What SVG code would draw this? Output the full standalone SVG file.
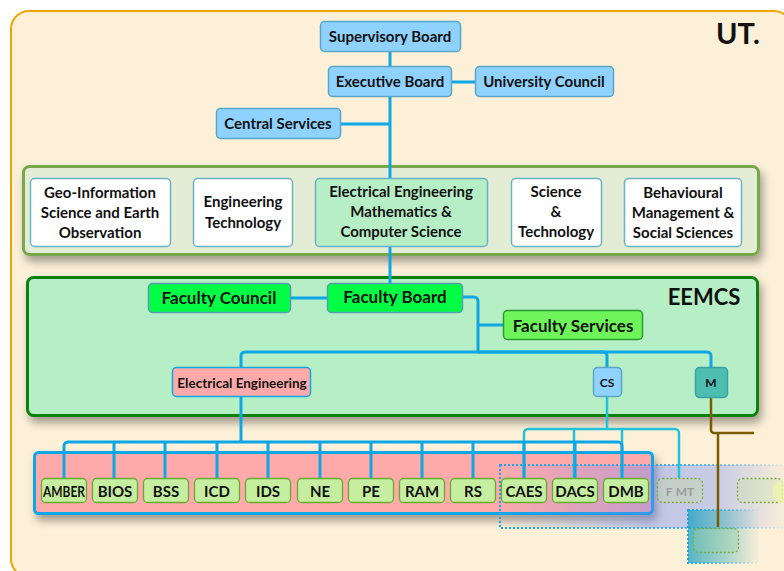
<svg xmlns="http://www.w3.org/2000/svg" width="784" height="571" viewBox="0 0 784 571">
<style>
text{font-family:Lato,"Open Sans","DejaVu Sans",sans-serif;font-weight:bold;fill:#111;text-anchor:middle}
.ub{fill:#8fd2ff;stroke:#5aa6c4;stroke-width:1.5}
.fac{fill:#fff;stroke:#6ab2c6;stroke-width:1.5}
.grp{fill:#c5eea0;stroke:#6aaa30;stroke-width:1.3}
.t15{font-size:15px}
.t17{font-size:17px}
.t13{font-size:13.5px}
.bl{fill:none;stroke:#0fa6e6;stroke-width:3}
.cy{fill:none;stroke:#22c2da;stroke-width:2.5}
.br{fill:none;stroke:#7a5c00;stroke-width:2.5}
.dot{stroke-dasharray:2,2}
</style>
<defs>
<filter id="sh" x="-5%" y="-20%" width="115%" height="160%">
<feDropShadow dx="3" dy="6" stdDeviation="4" flood-color="#000" flood-opacity="0.35"/>
</filter>
<linearGradient id="ovf" gradientUnits="userSpaceOnUse" x1="500" y1="0" x2="790" y2="0">
<stop offset="0" stop-color="#6a87fa" stop-opacity="0.02"/>
<stop offset="0.52" stop-color="#6a87fa" stop-opacity="0.4"/>
<stop offset="0.75" stop-color="#6a87fa" stop-opacity="0.35"/>
<stop offset="1" stop-color="#6a87fa" stop-opacity="0"/>
</linearGradient>
<linearGradient id="ovs" gradientUnits="userSpaceOnUse" x1="500" y1="0" x2="790" y2="0">
<stop offset="0" stop-color="#1aa5e6" stop-opacity="1"/>
<stop offset="0.65" stop-color="#1aa5e6" stop-opacity="0.8"/>
<stop offset="1" stop-color="#1aa5e6" stop-opacity="0"/>
</linearGradient>
<linearGradient id="tf" gradientUnits="userSpaceOnUse" x1="688" y1="0" x2="760" y2="0">
<stop offset="0" stop-color="#1aa0c0" stop-opacity="0.75"/>
<stop offset="0.5" stop-color="#3ab0b8" stop-opacity="0.45"/>
<stop offset="1" stop-color="#3ab0b8" stop-opacity="0"/>
</linearGradient>
<linearGradient id="ts" gradientUnits="userSpaceOnUse" x1="688" y1="0" x2="760" y2="0">
<stop offset="0" stop-color="#1aa5e6" stop-opacity="1"/>
<stop offset="0.6" stop-color="#1aa5e6" stop-opacity="0.5"/>
<stop offset="1" stop-color="#1aa5e6" stop-opacity="0"/>
</linearGradient>
</defs>

<g id="frame">
<rect x="11" y="11" width="781" height="566" rx="18" fill="#fcf0d8" stroke="#f0a400" stroke-width="2"/>
<text x="738" y="44" style="font-size:29px">UT.</text>
</g>

<g id="faculties-group">
<rect x="23.5" y="166.5" width="735" height="88" rx="6" fill="#e3ecd5" stroke="#78a84a" stroke-width="3" filter="url(#sh)"/>
</g>

<g id="eemcs-group">
<rect x="27.5" y="277.5" width="730" height="138" rx="6" fill="#b6efc6" stroke="#0a800a" stroke-width="3" filter="url(#sh)"/>
<text x="704" y="305" style="font-size:22px">EEMCS</text>
</g>

<g id="ee-container">
<rect x="34.5" y="452.5" width="618" height="61" rx="4" fill="#ffaaaa" stroke="#0fa6e6" stroke-width="3" filter="url(#sh)"/>
</g>

<g id="overlay-cs">
<rect x="500" y="465" width="300" height="63" fill="url(#ovf)" stroke="url(#ovs)" stroke-width="2" class="dot"/>
</g>
<g id="overlay-m">
<rect x="688" y="510" width="70" height="53" fill="url(#tf)" stroke="url(#ts)" stroke-width="2" class="dot"/>
</g>

<g id="connectors">
<path class="bl" d="M390,52 V283"/>
<path class="bl" d="M452,82 H475"/>
<path class="bl" d="M341,124 H390"/>
<path class="bl" d="M291,298 H327"/>
<path class="bl" d="M463,297 H474 a4,4 0 0 1 4,4 V352"/>
<path class="bl" d="M478,325 H503"/>
<path class="bl" d="M241,367 V356 a4,4 0 0 1 4,-4 H707 a4,4 0 0 1 4,4 V367"/>
<path class="bl" d="M478,352 H603 a4,4 0 0 1 4,4 V367"/>
<path class="cy" d="M607,397 V429"/>
<path class="cy" d="M524,479 V433 a4,4 0 0 1 4,-4 H675 a4,4 0 0 1 4,4 V478"/>
<path class="cy" d="M574,429 V479 M622,429 V479"/>
<path class="bl" d="M241,397 V442"/>
<path class="bl" d="M64,479 V446 a4,4 0 0 1 4,-4 H618 a4,4 0 0 1 4,4 V479"/>
<path class="bl" d="M114,442 V479 M165,442 V479 M217,442 V479 M268,442 V479 M320,442 V479 M371,442 V479 M422,442 V479 M473,442 V479 M524,442 V479 M575,442 V479"/>
<path class="br" d="M711,398 V430 a3,3 0 0 0 3,3 H754 M718,433 V527"/>
</g>

<g id="supervisory-board"><rect class="ub" x="320.5" y="21.5" width="140" height="30" rx="4"/><text class="t15" x="390" y="41.5">Supervisory Board</text></g>
<g id="executive-board"><rect class="ub" x="328.5" y="66.5" width="123" height="30" rx="4"/><text class="t15" x="390" y="86.5">Executive Board</text></g>
<g id="university-council"><rect class="ub" x="475.5" y="66.5" width="138" height="30" rx="4"/><text class="t15" x="544" y="86.5">University Council</text></g>
<g id="central-services"><rect class="ub" x="216.5" y="108.5" width="124" height="30" rx="4"/><text class="t15" x="278" y="129">Central Services</text></g>

<g id="fac-geo"><rect class="fac" x="30.5" y="178.5" width="140" height="68" rx="4"/><text class="t15" x="100" y="198">Geo-Information</text><text class="t15" x="100" y="218">Science and Earth</text><text class="t15" x="100" y="238">Observation</text></g>
<g id="fac-et"><rect class="fac" x="193.5" y="178.5" width="99" height="68" rx="4"/><text class="t15" x="243" y="207">Engineering</text><text class="t15" x="243" y="228">Technology</text></g>
<g id="fac-eemcs"><rect x="315.5" y="178.5" width="172" height="68" rx="4" fill="#b6efc6" stroke="#6ab2c6" stroke-width="1.5"/><text class="t15" x="401" y="197">Electrical Engineering</text><text class="t15" x="401" y="217">Mathematics &amp;</text><text class="t15" x="401" y="237">Computer Science</text></g>
<g id="fac-st"><rect class="fac" x="511.5" y="178.5" width="90" height="68" rx="4"/><text class="t15" x="556" y="197">Science</text><text class="t15" x="556" y="217">&amp;</text><text class="t15" x="556" y="237">Technology</text></g>
<g id="fac-bms"><rect class="fac" x="624.5" y="178.5" width="117" height="68" rx="4"/><text class="t15" x="683" y="198">Behavioural</text><text class="t15" x="683" y="218">Management &amp;</text><text class="t15" x="683" y="238">Social Sciences</text></g>

<g id="faculty-council"><rect x="148.5" y="283.5" width="142" height="29" rx="4" fill="#00ff44" stroke="#5a9ab6" stroke-width="1.5"/><text class="t17" x="219" y="303.5">Faculty Council</text></g>
<g id="faculty-board"><rect x="327.5" y="283.5" width="135" height="29" rx="4" fill="#00ff44" stroke="#5a9ab6" stroke-width="1.5"/><text class="t17" x="395" y="302.5">Faculty Board</text></g>
<g id="faculty-services"><rect x="503.5" y="310.5" width="139" height="29" rx="4" fill="#6ef55a" stroke="#2a9a30" stroke-width="1.5"/><text class="t17" x="573" y="331.5">Faculty Services</text></g>

<g id="dept-ee"><rect x="172.5" y="367.5" width="138" height="29" rx="4" fill="#ffaaaa" stroke="#0fa6e6" stroke-width="1.5"/><text class="t13" x="242" y="388">Electrical Engineering</text></g>
<g id="dept-cs"><rect class="ub" x="593.5" y="367.5" width="28" height="29" rx="4"/><text x="607" y="387" style="font-size:12px">CS</text></g>
<g id="dept-m"><rect x="695.5" y="367.5" width="32" height="30" rx="4" fill="#4dbdb0" stroke="#3aa2a6" stroke-width="1.5"/><text x="711" y="387" style="font-size:12px">M</text></g>

<g id="grp-amber"><rect class="grp" x="41.5" y="478.5" width="45" height="24" rx="4"/><text class="t15" x="64" y="496.5" textLength="42" lengthAdjust="spacingAndGlyphs">AMBER</text></g>
<g id="grp-bios"><rect class="grp" x="92.5" y="478.5" width="45" height="24" rx="4"/><text class="t15" x="115" y="496.5">BIOS</text></g>
<g id="grp-bss"><rect class="grp" x="143.5" y="478.5" width="45" height="24" rx="4"/><text class="t15" x="166" y="496.5">BSS</text></g>
<g id="grp-icd"><rect class="grp" x="194.5" y="478.5" width="45" height="24" rx="4"/><text class="t15" x="217" y="496.5">ICD</text></g>
<g id="grp-ids"><rect class="grp" x="245.5" y="478.5" width="45" height="24" rx="4"/><text class="t15" x="268" y="496.5">IDS</text></g>
<g id="grp-ne"><rect class="grp" x="297.5" y="478.5" width="45" height="24" rx="4"/><text class="t15" x="320" y="496.5">NE</text></g>
<g id="grp-pe"><rect class="grp" x="348.5" y="478.5" width="45" height="24" rx="4"/><text class="t15" x="371" y="496.5">PE</text></g>
<g id="grp-ram"><rect class="grp" x="399.5" y="478.5" width="45" height="24" rx="4"/><text class="t15" x="422" y="496.5">RAM</text></g>
<g id="grp-rs"><rect class="grp" x="450.5" y="478.5" width="45" height="24" rx="4"/><text class="t15" x="473" y="496.5">RS</text></g>
<g id="grp-caes"><rect class="grp" x="501.5" y="478.5" width="45" height="24" rx="4"/><text class="t15" x="524" y="496.5">CAES</text></g>
<g id="grp-dacs"><rect class="grp" x="552.5" y="478.5" width="45" height="24" rx="4"/><text class="t15" x="575" y="496.5">DACS</text></g>
<g id="grp-dmb"><rect class="grp" x="603.5" y="478.5" width="45" height="24" rx="4"/><text class="t15" x="626" y="496.5">DMB</text></g>

<g id="grp-fmt"><rect x="657.5" y="478.5" width="45" height="24" rx="5" fill="#c5d8a8" fill-opacity="0.45" stroke="#7aaa40" stroke-width="1.3" class="dot"/><text x="680" y="495.5" style="font-size:12px;fill:#9a9a9a">F<tspan dx="3">MT</tspan></text></g>
<g id="grp-faded1"><rect x="737.5" y="478.5" width="45" height="24" rx="5" fill="#c5e0a0" fill-opacity="0.3" stroke="#7aaa40" stroke-width="1.3" class="dot"/></g>
<g id="grp-faded2"><rect x="773" y="481" width="30" height="22" rx="9" fill="#eef2b0" fill-opacity="0.85"/></g>
<g id="grp-faded3"><rect x="693.5" y="528.5" width="45" height="24" rx="5" fill="#9ad0a0" fill-opacity="0.3" stroke="#7aaa40" stroke-width="1.3" class="dot"/></g>
</svg>
